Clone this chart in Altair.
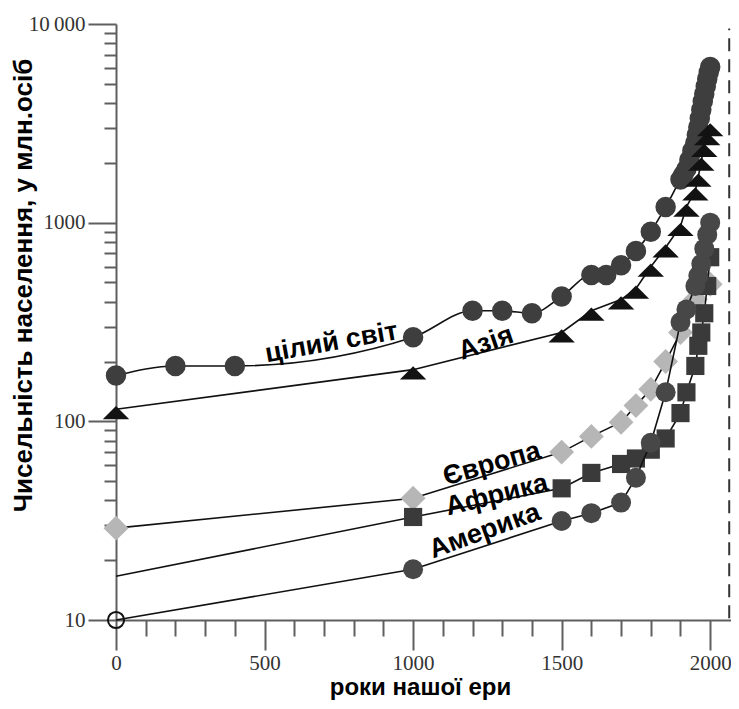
import altair as alt
import pandas as pd

# ---------------- data (millions of people) ----------------
world_years = [0, 200, 400, 1000, 1200, 1300, 1400, 1500, 1600, 1650, 1700, 1750, 1800, 1850,
               1900, 1910, 1920, 1930, 1940, 1950, 1955, 1960, 1965, 1970, 1975, 1980, 1985,
               1990, 1995, 2000]
world_values = [170, 190, 190, 265, 360, 360, 350, 425, 545, 545, 610, 720, 900, 1200,
                1650, 1750, 1860, 2070, 2300, 2520, 2760, 3020, 3340, 3700, 4070, 4440, 4850,
                5290, 5700, 6070]

asia_years = [0, 1000, 1500, 1600, 1700, 1750, 1800, 1850, 1900, 1920, 1950, 1960, 1970,
              1980, 1990, 2000]
asia_values = [115, 182, 280, 360, 410, 465, 600, 750, 960, 1200, 1450, 1700, 2050,
               2400, 2750, 3050]

europe_years = [0, 1000, 1500, 1600, 1700, 1750, 1800, 1850, 1900, 1950, 2000]
europe_values = [29, 41, 70, 84, 99, 120, 145, 200, 280, 410, 490]

africa_years = [0, 1000, 1500, 1600, 1700, 1750, 1800, 1850, 1900, 1920, 1950, 1960, 1970,
                1980, 1990, 2000]
africa_values = [16.6, 33, 46, 55, 61, 65, 72, 82, 110, 140, 190, 240, 280, 350, 480, 670]

america_years = [0, 1000, 1500, 1600, 1700, 1750, 1800, 1850, 1900, 1920, 1950, 1960, 1970,
                 1980, 1990, 2000]
america_values = [10, 18, 31.5, 34.5, 39, 52, 78, 140, 316, 366, 480, 540, 620, 740, 870, 1000]

label_texts = ["цілий світ", "Азія", "Європа", "Африка", "Америка"]
label_years = [725, 1245, 1265, 1282, 1241]
label_values = [249, 247, 61, 42.5, 28]
label_angles = [350, 341, 344, 346, 340]

x_major_ticks = [0, 500, 1000, 1500, 2000]
x_minor_ticks = [100, 200, 300, 400, 600, 700, 800, 900, 1100, 1200, 1300, 1400,
                 1600, 1700, 1800, 1900]
y_major_ticks = [10, 100, 1000, 10000]
y_minor_ticks = [20, 30, 40, 50, 60, 70, 80, 90, 200, 300, 400, 500, 600, 700, 800, 900,
                 2000, 3000, 4000, 5000, 6000, 7000, 8000, 9000]

dash_year = [2064]
x_title = "роки нашої ери"
y_title = "Чисельність населення, у млн.осіб"

# ---------------- tables ----------------
def table(years, values):
    return pd.DataFrame({"year": years, "value": values})

world_df = table(world_years, world_values)
asia_df = table(asia_years, asia_values)
europe_df = table(europe_years, europe_values)
africa_df = table(africa_years, africa_values)
america_df = table(america_years, america_values)
labels_df = pd.DataFrame({"year": label_years, "value": label_values,
                          "label": label_texts, "angle": label_angles})
dash_df = pd.DataFrame({"year": dash_year})

# ---------------- scales / axes ----------------
xs = alt.Scale(domain=[0, 2070], nice=False, zero=False)
ys = alt.Scale(type="log", domain=[10, 10000], nice=False)

AX_COLOR = "#5f5f5f"

x_major = alt.Axis(orient="bottom", values=x_major_ticks, tickSize=30, tickWidth=2,
                   tickColor=AX_COLOR, domainColor=AX_COLOR, domainWidth=2, grid=False,
                   labelFont="Liberation Serif", labelFontSize=21, labelColor="#333333",
                   labelPadding=2, labelFlush=False, labelOverlap=False, format="d",
                   title=x_title, titleFont="Liberation Sans", titleFontSize=24,
                   titleFontWeight="bold", titleColor="black", titleX=304, titleY=67,
                   titleAlign="center", titleBaseline="middle")
x_minor = alt.Axis(orient="bottom", values=x_minor_ticks, tickSize=16, tickWidth=2,
                   tickColor=AX_COLOR, domain=False, labels=False, grid=False, title=None)
y_major = alt.Axis(orient="left", values=y_major_ticks, tickSize=28, tickWidth=2,
                   tickColor=AX_COLOR, domainColor=AX_COLOR, domainWidth=2, grid=False,
                   labelFont="Liberation Serif", labelFontSize=21, labelColor="#333333",
                   labelPadding=3, labelFlush=False, labelOverlap=False,
                   labelExpr="datum.value >= 10000 ? '10\u2009000' : format(datum.value, 'd')",
                   title=y_title, titleFont="Liberation Sans", titleFontSize=26,
                   titleFontWeight="bold", titleColor="black", titleAngle=270,
                   titleX=-93, titleY=261, titleAlign="center", titleBaseline="middle")
y_minor = alt.Axis(orient="left", values=y_minor_ticks, tickSize=12, tickWidth=2,
                   tickColor=AX_COLOR, domain=False, labels=False, grid=False, title=None)


def X(axis=None):
    return alt.X("year:Q", scale=xs, axis=axis)


def Y(axis=None):
    return alt.Y("value:Q", scale=ys, axis=axis)


LINE = dict(color="#111111", strokeWidth=1.6)
TRI = "M-1,0.75L1,0.75L0,-0.25Z"

layers = []

# world
layers.append(alt.Chart(world_df).mark_line(interpolate="monotone", **LINE)
              .encode(x=X(x_major), y=Y(y_major)))
layers.append(alt.Chart(world_df).mark_point(shape="circle", filled=True, size=420,
                                             color="#3e3e3e", opacity=1)
              .encode(x=X(x_minor), y=Y(y_minor)))
# Asia
layers.append(alt.Chart(asia_df).mark_line(**LINE).encode(x=X(), y=Y()))
layers.append(alt.Chart(asia_df).mark_point(shape=TRI, filled=True, size=700,
                                            color="#121212", opacity=1)
              .encode(x=X(), y=Y()))
# Europe
layers.append(alt.Chart(europe_df).mark_line(**LINE).encode(x=X(), y=Y()))
layers.append(alt.Chart(europe_df).mark_point(shape="diamond", filled=True, size=620,
                                              color="#b6b6b6", opacity=1)
              .encode(x=X(), y=Y()))
# Africa
layers.append(alt.Chart(africa_df).mark_line(**LINE).encode(x=X(), y=Y()))
layers.append(alt.Chart(africa_df).transform_filter("datum.year > 0")
              .mark_point(shape="square", filled=True, size=330, color="#3a3a3a", opacity=1)
              .encode(x=X(), y=Y()))
# America
layers.append(alt.Chart(america_df).mark_line(**LINE).encode(x=X(), y=Y()))
layers.append(alt.Chart(america_df).transform_filter("datum.year > 0")
              .mark_point(shape="circle", filled=True, size=400, color="#474747", opacity=1)
              .encode(x=X(), y=Y()))
layers.append(alt.Chart(america_df).transform_filter("datum.year == 0")
              .mark_point(shape="circle", filled=False, size=260, stroke="#111111",
                          strokeWidth=2, opacity=1)
              .encode(x=X(), y=Y()))

# dashed vertical line
layers.append(alt.Chart(dash_df).mark_rule(strokeDash=[13, 8], strokeWidth=2, color="#333333")
              .encode(x=X(),
                      y=alt.Y(datum=10.2, scale=ys, axis=None),
                      y2=alt.Y2(datum=9500)))

# series labels
layers.append(alt.Chart(labels_df).mark_text(font="Liberation Sans", fontSize=27,
                                             fontWeight="bold", color="black",
                                             align="center", baseline="middle")
              .encode(x=X(), y=Y(), text="label:N",
                      angle=alt.Angle("angle:Q", scale=None)))

chart = (alt.layer(*layers)
         .resolve_axis(x="independent", y="independent")
         .properties(width=615, height=596,
                     padding={"left": 108, "top": 16, "right": 0, "bottom": 80},
                     autosize=alt.AutoSizeParams(type="none"))
         .configure_view(stroke=None))

chart.save("out.html", embed_options={"renderer": "svg", "actions": False})
